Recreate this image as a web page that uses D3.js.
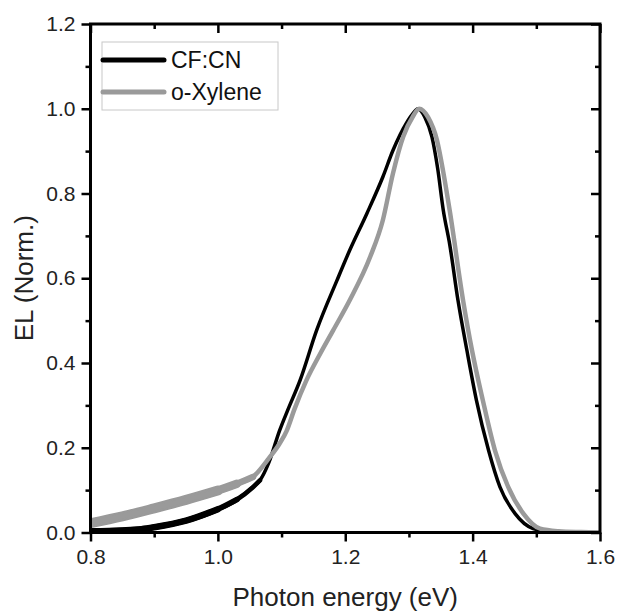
<!DOCTYPE html>
<html lang="en">
    <head>
        <meta charset="utf-8">
        <title>EL spectra</title>
        <script type="text/javascript" src="https://cdn.jsdelivr.net/npm/d3@7"></script>
        <style>
            body { margin: 0; background: #fff; }
            text { font-family: "Liberation Sans", Arial, sans-serif; }
        </style>
    </head>

    <body>
        <script type="text/javascript">
        var w = 617;
        var h = 615;
        var margin = {top: 24, right: 17, bottom: 83, left: 90.5};

        // values
        var seriesNames = ["CF:CN", "o-Xylene"];
        var seriesColors = ["#000000", "#9a9a9a"];

        var cfcnE = [0.80, 0.85, 0.88, 0.90, 0.95, 1.00, 1.03, 1.055, 1.066, 1.08, 1.097, 1.11, 1.129, 1.155,
                     1.187, 1.207, 1.234, 1.259, 1.275, 1.296, 1.307, 1.314, 1.325, 1.336, 1.345, 1.354, 1.364,
                     1.377, 1.391, 1.406, 1.425, 1.443, 1.467, 1.495, 1.52, 1.55, 1.60];
        var cfcnEL = [0.003, 0.005, 0.008, 0.0125, 0.028, 0.055, 0.078, 0.107, 0.123, 0.165, 0.241, 0.29, 0.359, 0.477,
                      0.595, 0.666, 0.753, 0.839, 0.902, 0.966, 0.99, 1.0, 0.98, 0.934, 0.86, 0.76, 0.68,
                      0.548, 0.43, 0.312, 0.194, 0.107, 0.044, 0.009, 0.002, 0.0, 0.0];

        var oxyE = [0.80, 0.85, 0.90, 0.95, 1.00, 1.03, 1.055, 1.08, 1.097, 1.108, 1.12, 1.139, 1.16, 1.181,
                    1.207, 1.239, 1.259, 1.275, 1.291, 1.306, 1.316, 1.33, 1.344, 1.354, 1.364,
                    1.385, 1.399, 1.416, 1.435, 1.456, 1.48, 1.506, 1.535, 1.57, 1.60];
        var oxyEL = [0.022, 0.038, 0.057, 0.077, 0.099, 0.115, 0.131, 0.175, 0.21, 0.24, 0.29, 0.359, 0.42, 0.477,
                     0.548, 0.65, 0.737, 0.848, 0.934, 0.981, 1.0, 0.98, 0.926, 0.85, 0.76,
                     0.548, 0.43, 0.312, 0.194, 0.107, 0.044, 0.009, 0.003, 0.001, 0.0];

        var xTicks = [0.8, 1.0, 1.2, 1.4, 1.6];
        var yTicks = [0.0, 0.2, 0.4, 0.6, 0.8, 1.0, 1.2];

        // the measured traces are noisy at low energy: drawn as wider bands there,
        // narrowing in steps [upper energy, extra width]
        var noiseSteps = [[1.00, 1.0], [1.04, 0.7], [1.07, 0.4]];

        var series = [
            {name: seriesNames[0], color: seriesColors[0], pts: d3.zip(cfcnE, cfcnEL), w: 3.5, band: 3},
            {name: seriesNames[1], color: seriesColors[1], pts: d3.zip(oxyE, oxyEL), w: 4.5, band: 5.5}
        ];

        var xScale = d3.scaleLinear()
                        .domain([0.8, 1.6])
                        .range([margin.left, w - margin.right]);
        var yScale = d3.scaleLinear()
                        .domain([0, 1.2])
                        .range([h - margin.bottom + 0.5, margin.top]);

        var xMinor = d3.range(0.9, 1.6, 0.2);
        var yMinor = d3.range(0.1, 1.2, 0.2);
        var bottom = h - margin.bottom + 0.5;

        var svg = d3.select("body")
                    .append("svg")
                    .attr("width", w)
                    .attr("height", h);

        // keep the curves inside the frame
        svg.append("clipPath")
            .attr("id", "plotArea")
            .append("rect")
            .attr("x", margin.left)
            .attr("y", margin.top)
            .attr("width", w - margin.right - margin.left)
            .attr("height", bottom - margin.top);

        var line = d3.line()
                     .x(function(d){ return xScale(d[0]); })
                     .y(function(d){ return yScale(d[1]); })
                     .curve(d3.curveMonotoneX);

        // one group per series, gray drawn over black
        var curves = svg.append("g")
            .attr("clip-path", "url(#plotArea)")
            .selectAll("g.curve")
            .data(series)
            .enter()
            .append("g")
            .attr("class", "curve");

        noiseSteps.forEach(function(s){
            curves.append("path")
                .attr("d", function(d){
                    return line(d.pts.filter(function(p){ return p[0] <= s[0]; }));
                })
                .attr("fill", "none")
                .attr("stroke", function(d){ return d.color; })
                .attr("stroke-width", function(d){ return d.w + d.band * s[1]; })
                .attr("stroke-linecap", "round");
        });

        curves.append("path")
            .attr("d", function(d){ return line(d.pts); })
            .attr("fill", "none")
            .attr("stroke", function(d){ return d.color; })
            .attr("stroke-width", function(d){ return d.w; })
            .attr("stroke-linejoin", "round");

        // axes: bottom/left ticks outward, top/right inward
        function styleAxis(g) {
            g.select(".domain").remove();
            g.selectAll("line").attr("stroke", "#000").attr("stroke-width", 2.5);
            g.selectAll("text").attr("font-size", "21px").attr("fill", "#222");
        }
        var fmt = d3.format(".1f");

        svg.append("g").attr("transform", "translate(0," + bottom + ")")
            .call(d3.axisBottom(xScale).tickValues(xTicks).tickFormat(fmt).tickSize(9).tickPadding(8))
            .call(styleAxis);
        svg.append("g").attr("transform", "translate(0," + bottom + ")")
            .call(d3.axisBottom(xScale).tickValues(xMinor).tickFormat("").tickSize(5))
            .call(styleAxis);
        svg.append("g").attr("transform", "translate(" + margin.left + ",0)")
            .call(d3.axisLeft(yScale).tickValues(yTicks).tickFormat(fmt).tickSize(9).tickPadding(6))
            .call(styleAxis);
        svg.append("g").attr("transform", "translate(" + margin.left + ",0)")
            .call(d3.axisLeft(yScale).tickValues(yMinor).tickFormat("").tickSize(5))
            .call(styleAxis);
        svg.append("g").attr("transform", "translate(0," + margin.top + ")")
            .call(d3.axisTop(xScale).tickValues(xTicks).tickFormat("").tickSize(-9))
            .call(styleAxis);
        svg.append("g").attr("transform", "translate(0," + margin.top + ")")
            .call(d3.axisTop(xScale).tickValues(xMinor).tickFormat("").tickSize(-5))
            .call(styleAxis);
        svg.append("g").attr("transform", "translate(" + (w - margin.right) + ",0)")
            .call(d3.axisRight(yScale).tickValues(yTicks).tickFormat("").tickSize(-9))
            .call(styleAxis);
        svg.append("g").attr("transform", "translate(" + (w - margin.right) + ",0)")
            .call(d3.axisRight(yScale).tickValues(yMinor).tickFormat("").tickSize(-5))
            .call(styleAxis);

        // frame
        svg.append("rect")
            .attr("x", margin.left)
            .attr("y", margin.top)
            .attr("width", w - margin.right - margin.left)
            .attr("height", bottom - margin.top)
            .attr("fill", "none")
            .attr("stroke", "#000")
            .attr("stroke-width", 3);

        // axis titles
        svg.append("text")
            .attr("x", (margin.left + w - margin.right) / 2)
            .attr("y", 606)
            .attr("text-anchor", "middle")
            .attr("font-size", "26px")
            .attr("fill", "#222")
            .text("Photon energy (eV)");
        svg.append("text")
            .attr("transform", "translate(33," + ((margin.top + bottom) / 2) + ") rotate(-90)")
            .attr("text-anchor", "middle")
            .attr("font-size", "26px")
            .attr("fill", "#222")
            .text("EL (Norm.)");

        // legend
        var legend = svg.append("g").attr("transform", "translate(102,42)");
        legend.append("rect")
            .attr("width", 176)
            .attr("height", 68)
            .attr("fill", "#fff")
            .attr("stroke", "#c8c8c8")
            .attr("stroke-width", 1);
        var items = legend.selectAll("g.item")
            .data(series)
            .enter()
            .append("g")
            .attr("class", "item")
            .attr("transform", function(d, i){ return "translate(0," + (18 + i * 32) + ")"; });
        items.append("line")
            .attr("x1", 1).attr("x2", 62)
            .attr("stroke", function(d){ return d.color; })
            .attr("stroke-width", 5)
            .attr("stroke-linecap", "round");
        items.append("text")
            .attr("x", 69)
            .attr("y", 8)
            .attr("font-size", "23px")
            .attr("fill", "#111")
            .text(function(d){ return d.name; });
        </script>
    </body>
</html>
